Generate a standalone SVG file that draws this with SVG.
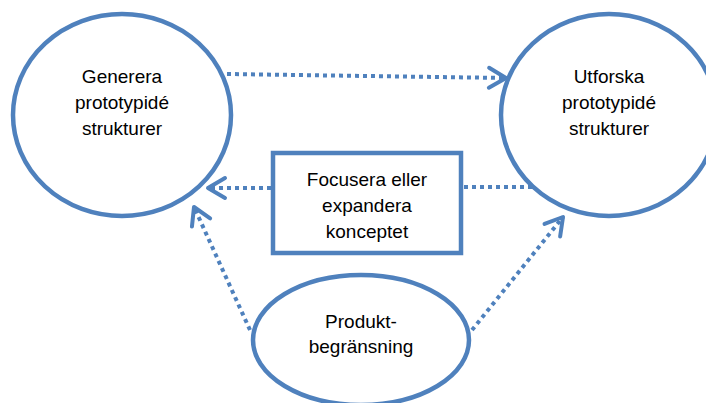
<svg xmlns="http://www.w3.org/2000/svg" width="706" height="403" viewBox="0 0 706 403">
<style>
.node{fill:#fff;stroke:#4F81BD;stroke-width:4.5}
.lbl{font-family:"Liberation Sans",Arial,sans-serif;font-size:19px;fill:#000;text-anchor:middle}
.conn{fill:none;stroke:#4F81BD;stroke-width:4;stroke-dasharray:4 4}
</style>
<defs>
<marker id="chev" markerUnits="userSpaceOnUse" markerWidth="40" markerHeight="40" refX="0" refY="0" orient="auto" overflow="visible">
<path d="M-17,-10 L0,0 L-17,10" fill="none" stroke="#4F81BD" stroke-width="4" stroke-linecap="round" stroke-linejoin="round" stroke-dasharray="none"/>
</marker>
</defs>
<rect width="706" height="403" fill="#fff"/>
<g id="connectors">
<line class="conn" x1="227" y1="74" x2="506" y2="78" marker-end="url(#chev)"/>
<line class="conn" x1="271" y1="188" x2="208" y2="188" marker-end="url(#chev)"/>
<line class="conn" x1="464" y1="187" x2="532" y2="187"/>
<line class="conn" x1="250" y1="330" x2="194" y2="207" marker-end="url(#chev)"/>
<line class="conn" x1="472" y1="330" x2="563" y2="217" marker-end="url(#chev)"/>
</g>
<g id="generera">
<ellipse class="node" cx="122" cy="115" rx="109" ry="101"/>
<text class="lbl" x="122" y="83">Generera</text>
<text class="lbl" x="122" y="109">prototypidé</text>
<text class="lbl" x="122" y="135">strukturer</text>
</g>
<g id="utforska">
<ellipse class="node" cx="609" cy="115" rx="108" ry="101"/>
<text class="lbl" x="609" y="83">Utforska</text>
<text class="lbl" x="609" y="109">prototypidé</text>
<text class="lbl" x="609" y="135">strukturer</text>
</g>
<g id="focusera">
<rect class="node" x="273" y="153" width="188" height="100"/>
<text class="lbl" x="367" y="186">Focusera eller</text>
<text class="lbl" x="367" y="212">expandera</text>
<text class="lbl" x="367" y="238">konceptet</text>
</g>
<g id="produkt">
<ellipse class="node" cx="361" cy="340" rx="108" ry="65"/>
<text class="lbl" x="361" y="328">Produkt-</text>
<text class="lbl" x="361" y="353">begränsning</text>
</g>
</svg>
